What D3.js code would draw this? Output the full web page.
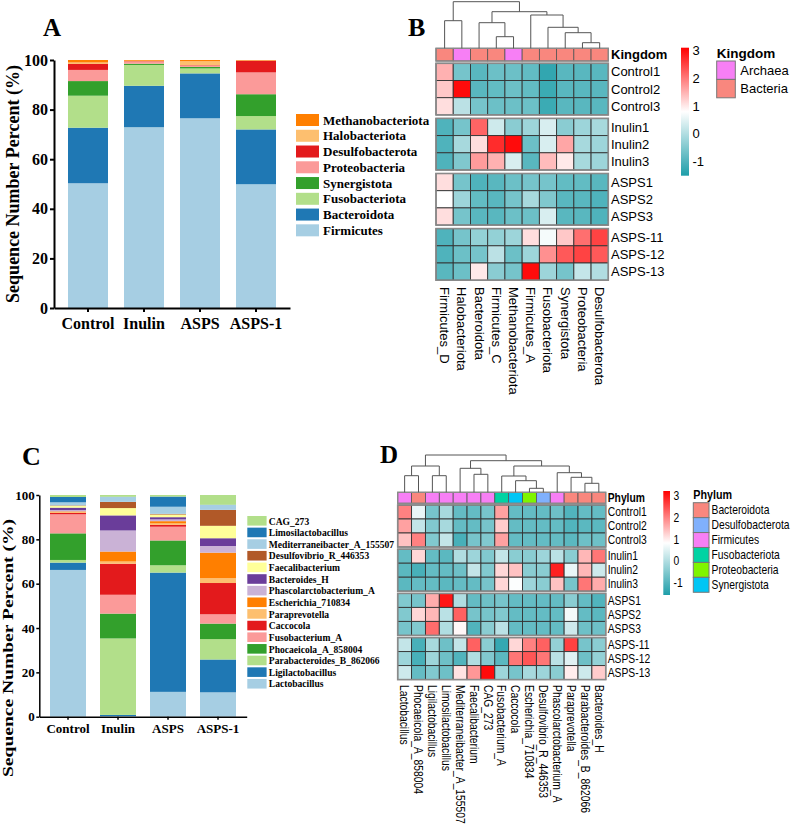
<!DOCTYPE html>
<html><head><meta charset="utf-8">
<script src="https://cdn.jsdelivr.net/npm/d3@7"></script>
<style>body{margin:0;background:#fff} svg{display:block}</style>
</head><body>
<svg id="c" width="791" height="825"></svg>
<script>
// ---------------- DATA ----------------
const groups = ["Control","Inulin","ASPS","ASPS-1"];

// Panel A: phylum-level stacked percentages (bottom -> top)
const phylaA = ["Firmicutes","Bacteroidota","Fusobacteriota","Synergistota","Proteobacteria","Desulfobacterota","Halobacteriota","Methanobacteriota"];
const colorsA = ["#a6cee3","#1f78b4","#b2df8a","#33a02c","#fb9a99","#e31a1c","#fdbf6f","#ff7f00"];
const valuesA = [
  [50.3,72.9,76.5,49.9],
  [22.4,16.7,18.1,22.1],
  [12.9, 8.4, 2.0, 5.4],
  [ 5.9, 0.5, 0.6, 8.8],
  [ 4.5, 0.8, 0.5, 8.8],
  [ 2.4, 0.2, 0.2, 4.7],
  [ 0.6, 0.2, 1.6, 0.1],
  [ 1.0, 0.3, 0.5, 0.2]];

// Panel C: genus-level stacked percentages (bottom -> top)
const generaC = ["Lactobacillus","Ligilactobacillus","Parabacteroides_B_862066","Phocaeicola_A_858004","Fusobacterium_A","Caccocola","Paraprevotella","Escherichia_710834","Phascolarctobacterium_A","Bacteroides_H","Faecalibacterium","Desulfovibrio_R_446353","Mediterraneibacter_A_155507","Limosilactobacillus","CAG_273"];
const colorsC = ["#a6cee3","#1f78b4","#b2df8a","#33a02c","#fb9a99","#e31a1c","#fdbf6f","#ff7f00","#cab2d6","#6a3d9a","#ffff99","#b15928","#a6cee3","#1f78b4","#b2df8a"];
const valuesC = [
  [66.2, 0.3,11.2,11.0],
  [ 3.3, 0.5,53.8,14.8],
  [ 1.2,34.5, 3.3, 9.2],
  [12.0,11.2,11.2, 7.0],
  [ 8.6, 8.5, 6.2, 4.2],
  [ 0.6,14.0, 0.8,14.1],
  [ 0.4, 1.0, 0.7, 2.2],
  [ 0.3, 4.5, 1.0,11.5],
  [ 0.6, 9.5, 0.8, 3.0],
  [ 1.1, 6.8, 1.0, 3.5],
  [ 0.8, 3.3, 1.2, 5.6],
  [ 0.2, 2.8, 0.3, 7.2],
  [ 1.4, 2.2, 3.2, 2.2],
  [ 2.4, 0.1, 4.6, 0.1],
  [ 0.9, 0.8, 0.7, 4.4]];

const yTicks = [0,20,40,60,80,100];

// Heatmaps: samples (rows)
const samples = ["Control1","Control2","Control3","Inulin1","Inulin2","Inulin3","ASPS1","ASPS2","ASPS3","ASPS-11","ASPS-12","ASPS-13"];

// Panel B
const colsB = ["Firmicutes_D","Halobacteriota","Bacteroidota","Firmicutes_C","Methanobacteriota","Firmicutes_A","Fusobacteriota","Synergistota","Proteobacteria","Desulfobacterota"];
const kingdomB = ["Bacteria","Archaea","Bacteria","Bacteria","Archaea","Bacteria","Bacteria","Bacteria","Bacteria","Bacteria"];
const kingdomNames = ["Archaea","Bacteria"];
const kingdomColors = ["#f77ff5","#f9877e"];
const heatB = [
  [ 1.5,-0.6,-0.9,-0.7,-0.7,-0.8,-1.3,-0.9,-0.9,-0.9],
  [ 1.3, 3.0,-0.9,-0.8,-0.7,-0.8,-1.2,-0.9,-0.9,-0.9],
  [ 1.1, 0.1,-0.6,-0.7,-0.7,-0.7,-1.2,-0.9,-0.9,-0.9],
  [-1.0,-0.6, 2.2, 0.3,-0.4,-0.2, 0.4,-0.4,-0.2,-0.1],
  [-1.0,-0.1, 1.1, 2.7, 3.0,-0.7, 0.4, 1.6,-0.1,-0.2],
  [-1.0,-0.5, 1.7, 1.5, 0.4,-0.9, 1.4, 1.0,-0.1,-0.2],
  [ 1.1,-0.6,-1.0,-0.9,-0.7,-0.6,-0.6,-0.8,-0.8,-0.9],
  [ 0.8,-0.2,-0.8,-0.9,-0.6,-0.1,-0.5,-0.9,-0.9,-1.0],
  [ 1.1,-0.6,-0.9,-0.9,-0.7,-0.7, 0.4,-0.9,-0.9,-1.0],
  [-1.0,-0.6,-0.3,-0.3,-0.2, 1.1, 0.7, 1.3, 2.1, 2.5],
  [-1.0,-0.7,-0.6, 0.1,-0.7,-0.2, 1.8, 2.3, 2.5, 2.3],
  [-0.9,-0.7, 1.0,-0.4,-0.6, 3.0,-0.2,-0.6, 0.2, 0.0]];
// dendrogram: [left, right, height]; leaves are column indices
const treeB = [[0,1,27.6],[[2,[3,4,11.6],25.6],[5,[6,[7,[8,9,5.6],15.6],21.0],33.3],36.6],46.6];
const scaleTicksB = [3,2,1,0,-1];
const rangeB = [-1.5,3.1];

// Panel D
const colsD = ["Lactobacillus","Phocaeicola_A_858004","Ligilactobacillus","Limosilactobacillus","Mediterraneibacter_A_155507","Faecalibacterium","CAG_273","Fusobacterium_A","Caccocola","Escherichia_710834","Desulfovibrio_R_446353","Phascolarctobacterium_A","Paraprevotella","Parabacteroides_B_862066","Bacteroides_H"];
const phylumD = ["Firmicutes","Bacteroidota","Firmicutes","Firmicutes","Firmicutes","Firmicutes","Firmicutes","Fusobacteriota","Synergistota","Proteobacteria","Desulfobacterota","Firmicutes","Bacteroidota","Bacteroidota","Bacteroidota"];
const phylumNames = ["Bacteroidota","Desulfobacterota","Firmicutes","Fusobacteriota","Proteobacteria","Synergistota"];
const phylumColors = ["#f9877e","#80b0fc","#f77ff5","#00d3a3","#7ff500","#00c6f5"];
const heatD = [
  [ 2.0, 0.6,-0.6,-0.1,-0.8,-0.8,-0.6, 1.7,-0.8,-0.8,-0.8,-0.7,-1.0,-0.8,-0.8],
  [ 1.7, 0.2,-0.5,-0.1,-0.8,-0.8,-0.6, 1.3,-0.8,-0.8,-0.8,-0.8,-1.0,-0.9,-0.9],
  [ 1.4, 2.0,-0.5, 0.2,-1.1,-0.6,-0.5, 1.7,-0.8,-0.8,-0.8,-0.8,-0.9,-0.7,-0.7],
  [-0.8, 1.2,-0.8,-0.9, 0.0,-0.2,-0.5, 0.2,-0.4,-0.4,-0.2, 0.1,-0.4, 1.5, 2.1],
  [-0.9,-1.1,-0.8,-0.8,-0.7, 0.2,-0.5, 1.2, 1.4,-0.4,-0.4, 2.9, 0.6, 1.5, 0.3],
  [-0.9,-0.8,-0.8,-0.9,-0.8,-0.8,-0.6, 1.2, 0.8,-0.2,-0.4, 1.4,-0.6, 2.1, 1.6],
  [-0.5,-0.6, 1.6, 3.0, 0.0,-0.8,-0.7,-0.6,-0.8,-0.8,-0.8,-0.8,-0.4,-0.8,-1.0],
  [-0.5, 1.2, 1.5, 0.1, 2.3,-0.6,-0.6,-0.5,-0.8,-0.8,-0.8,-0.8, 0.7,-0.8,-0.9],
  [-0.6,-0.5, 2.2, 0.0, 0.9,-1.0,-0.4, 0.1,-0.8,-0.8,-0.8,-0.8, 0.3,-0.7,-0.7],
  [ 0.2,-1.1,-0.1,-0.7, 0.2, 2.3,-0.4,-1.3, 1.2, 2.0, 2.3,-0.3, 2.6,-0.6,-0.4],
  [-0.2,-1.1,-0.2,-0.7,-1.0, 0.0,-0.5,-0.9, 2.1, 2.4, 2.1, 0.1, 0.5,-0.7,-0.3],
  [ 0.3,-0.8,-0.5,-0.7, 1.1, 1.8, 3.1,-0.2,-0.6,-0.1,-0.2,-0.4, 1.0, 0.3, 1.3]];
const treeD = [[[0,1,16.6],[2,3,16.6],26.3],
  [[4,[5,6,18.0],24.0],[[7,[8,[9,10,4.0],11.6],16.3],[11,[12,[13,14,9.0],15.0],19.6],26.3],31.6],37.3];
const scaleTicksD = [3,2,1,0,-1];
const rangeD = [-1.54,3.2];

// ---------------- DRAWING ----------------
const svg = d3.select("#c");
const SERIF = "'Liberation Serif','Times New Roman',serif";
const SANS = "'Liberation Sans',Arial,sans-serif";
const LOW = "#1e9ea9", HIGH = "#ff0000";

function label(g, x, y, s, o = {}) {
  let tr = `translate(${x},${y})`;
  if (o.rot) tr += ` rotate(${o.rot})`;
  if (o.sx) tr += ` scale(${o.sx},1)`;
  const t = g.append("text").attr("transform", tr).text(s)
    .attr("font-family", o.ff || SANS).attr("font-size", o.fs || 13)
    .attr("font-weight", o.fw || "normal").attr("text-anchor", o.anchor || "start")
    .attr("dominant-baseline", o.db || "auto").attr("fill", "#000");
  if (o.len) t.attr("textLength", o.len).attr("lengthAdjust", "spacingAndGlyphs");
  return t;
}

function stackedBar(o) {
  const g = svg.append("g");
  const table = groups.map((grp, j) => {
    const r = {group: grp};
    o.keys.forEach((k, i) => r[k] = o.values[i][j]);
    return r;
  });
  const series = d3.stack().keys(o.keys)(table);
  const x = d3.scaleBand().domain(groups).range(o.xr).paddingInner(o.pi).paddingOuter(o.po);
  const y = d3.scaleLinear().domain([0, 100]).range(o.yr);
  series.forEach((s, i) => {
    g.append("g").selectAll("rect").data(s).join("rect")
      .attr("x", d => x(d.data.group)).attr("width", x.bandwidth())
      .attr("y", d => y(d[1])).attr("height", d => y(d[0]) - y(d[1]))
      .attr("fill", o.colors[i]);
  });
  const ya = g.append("g").attr("transform", `translate(${o.xr[0]},0)`)
    .call(d3.axisLeft(y).tickValues(yTicks).tickSize(o.tick).tickSizeOuter(0).tickPadding(o.tp));
  const xa = g.append("g").attr("transform", `translate(0,${o.yr[0]})`)
    .call(d3.axisBottom(x).tickSize(o.tick).tickSizeOuter(0).tickPadding(o.tpx));
  [ya, xa].forEach(a => {
    a.select(".domain").attr("stroke", "#000").attr("stroke-width", o.sw);
    a.selectAll(".tick line").attr("stroke", "#000").attr("stroke-width", o.sw);
    a.selectAll("text").attr("font-family", SERIF).attr("font-weight", "bold")
      .attr("font-size", o.fs).attr("fill", "#000");
  });
  xa.selectAll("text").attr("font-size", o.fsx);
  // legend (top to bottom = reverse stacking)
  const leg = g.append("g");
  const items = o.keys.map((k, i) => ({k, c: o.colors[i]})).reverse();
  const ly = d3.scaleBand().domain(items.map((d, i) => i)).range([o.legTop, o.legTop + o.legStep * items.length]);
  items.forEach((d, i) => {
    leg.append("rect").attr("x", o.legX).attr("y", ly(i)).attr("width", o.swW).attr("height", o.swH).attr("fill", d.c);
    label(leg, o.legX + o.swW + o.legGap, ly(i) + o.swH / 2, d.k, {ff: SERIF, fw: "bold", fs: o.legFs, db: "central", sx: o.legSx});
  });
  return g;
}

// Panel A
const gA = stackedBar({keys: phylaA, values: valuesA, colors: colorsA,
  xr: [54, 290], yr: [308, 60], pi: 16/56, po: 0.25, tick: 4, tp: 2, tpx: 6, sw: 2, fs: 16, fsx: 16,
  legX: 296, legTop: 114, legStep: 15.76, swW: 23, swH: 12, legGap: 4, legFs: 13});
label(gA, 13, 184, "Sequence Number Percent (%)", {ff: SERIF, fw: "bold", fs: 18, rot: -90, anchor: "middle", db: "central"});
label(gA, 43, 36, "A", {ff: SERIF, fw: "bold", fs: 25});

// Panel C
const gC = stackedBar({keys: generaC, values: valuesC, colors: colorsC,
  xr: [39.3, 246.7], yr: [716.7, 495], pi: 0.28, po: 0.214, tick: 3, tp: 1.5, tpx: 4, sw: 1.5, fs: 13, fsx: 13,
  legX: 247.3, legTop: 516, legStep: 11.64, swW: 19.3, swH: 9.6, legGap: 2.2, legFs: 11, legSx: 0.87});
label(gC, 8, 648, "Sequence Number Percent (%)", {ff: SERIF, fw: "bold", fs: 15, rot: -90, anchor: "middle", db: "central", len: 258});
label(gC, 22, 465, "C", {ff: SERIF, fw: "bold", fs: 26});

// Heatmaps
let gradId = 0;
function heatmap(o) {
  const g = svg.append("g");
  const n = o.cols.length;
  const x = d3.scaleBand().domain(o.cols).range([o.x0, o.x0 + o.colW * n]);
  const gs = d3.scaleBand().domain(groups).range([o.rowTop, o.rowBottom]).paddingInner(o.gapFrac);
  const inner = d3.scaleBand().domain([0, 1, 2]).range([0, gs.bandwidth()]);
  const yRow = i => gs(groups[Math.floor(i / 3)]) + inner(i % 3);
  const color = d3.scaleLinear().domain([o.range[0], (o.range[0] + o.range[1]) / 2, o.range[1]])
    .range([LOW, "#ffffff", HIGH]).clamp(true);
  // cells
  o.matrix.forEach((row, i) => {
    g.append("g").selectAll("rect").data(row).join("rect")
      .attr("x", (d, j) => x(o.cols[j])).attr("y", yRow(i))
      .attr("width", x.bandwidth()).attr("height", inner.bandwidth())
      .attr("fill", d => color(d)).attr("stroke", "#333").attr("stroke-width", 0.9);
  });
  groups.forEach(gn => g.append("rect").attr("x", o.x0).attr("y", gs(gn))
    .attr("width", o.colW * n).attr("height", gs.bandwidth())
    .attr("fill", "none").attr("stroke", "#8a8a8a").attr("stroke-width", 1.6));
  // annotation row
  const annC = d3.scaleOrdinal().domain(o.annNames).range(o.annColors);
  g.append("g").selectAll("rect").data(o.ann).join("rect")
    .attr("x", (d, j) => x(o.cols[j])).attr("y", o.annTop).attr("width", x.bandwidth()).attr("height", o.annH)
    .attr("fill", d => annC(d)).attr("stroke", "#555").attr("stroke-width", 0.8);
  g.append("rect").attr("x", o.x0).attr("y", o.annTop).attr("width", o.colW * n).attr("height", o.annH)
    .attr("fill", "none").attr("stroke", "#8a8a8a").attr("stroke-width", 1.4);
  label(g, o.labX, o.annTop + o.annH / 2, o.annTitle, {fw: "bold", fs: o.fs, db: "central", sx: o.sx});
  // row labels
  samples.forEach((s, i) => label(g, o.labX, yRow(i) + inner.bandwidth() / 2, s, {fs: o.fs, db: "central", sx: o.sx}));
  // column labels
  o.cols.forEach(c => label(g, x(c) + x.bandwidth() / 2, o.colLabTop, c, {fs: o.fs, rot: 90, db: "central", sx: o.sx}));
  // dendrogram
  const yH = d3.scaleLinear().domain([0, o.tree[2]]).range([o.annTop, o.dendTop]);
  const dg = g.append("g").attr("fill", "none").attr("stroke", "#555").attr("stroke-width", 1);
  (function walk(node) {
    if (typeof node === "number") return {x: x(o.cols[node]) + x.bandwidth() / 2, y: o.annTop};
    const a = walk(node[0]), b = walk(node[1]);
    const yy = yH(node[2]);
    dg.append("path").attr("d", `M${a.x},${a.y}V${yy}H${b.x}V${b.y}`);
    return {x: (a.x + b.x) / 2, y: yy};
  })(o.tree);
  // color bar
  const id = "grad" + (gradId++);
  const grad = svg.append("defs").append("linearGradient").attr("id", id)
    .attr("x1", 0).attr("y1", 1).attr("x2", 0).attr("y2", 0);
  d3.range(0, 1.0001, 0.05).forEach(t => grad.append("stop").attr("offset", t)
    .attr("stop-color", color(o.range[0] + t * (o.range[1] - o.range[0]))));
  const cy = d3.scaleLinear().domain(o.range).range([o.cbBottom, o.cbTop]);
  g.append("rect").attr("x", o.cbX).attr("y", o.cbTop).attr("width", o.cbW).attr("height", o.cbBottom - o.cbTop)
    .attr("fill", `url(#${id})`);
  o.cbTicks.forEach(t => label(g, o.cbX + o.cbW + 3.5, cy(t), String(t), {fs: o.fs, db: "central", sx: o.sx}));
  // annotation legend
  label(g, o.legX, o.legTitleY, o.annTitle, {fw: "bold", fs: o.legTitleFs, db: "central", sx: o.sx});
  const ly = d3.scaleBand().domain(o.annNames).range([o.legTop, o.legTop + o.legStep * o.annNames.length]);
  o.annNames.forEach((nm, i) => {
    g.append("rect").attr("x", o.legX).attr("y", ly(nm)).attr("width", o.legW).attr("height", ly.bandwidth())
      .attr("fill", o.annColors[i]).attr("stroke", "#777").attr("stroke-width", 1);
    label(g, o.legX + o.legW + o.legGap, ly(nm) + ly.bandwidth() / 2, nm, {fs: o.legFs, db: "central", sx: o.sx});
  });
  return g;
}

const gB = heatmap({cols: colsB, matrix: heatB, ann: kingdomB, annNames: kingdomNames, annColors: kingdomColors,
  annTitle: "Kingdom", tree: treeB, range: rangeB, cbTicks: scaleTicksB,
  x0: 436, colW: 17.23, rowTop: 63.3, rowBottom: 280.2, gapFrac: 3.5 / 55.1,
  annTop: 48.3, annH: 12.7, dendTop: 1.7, labX: 611, colLabTop: 287, fs: 13,
  cbX: 681, cbW: 8, cbTop: 47.7, cbBottom: 175.7,
  legX: 716.7, legTitleY: 53.5, legTitleFs: 13.5, legTop: 61, legStep: 18.4, legW: 18.6, legGap: 5, legFs: 13});
label(gB, 408, 36, "B", {ff: SERIF, fw: "bold", fs: 26});

const gD = heatmap({cols: colsD, matrix: heatD, ann: phylumD, annNames: phylumNames, annColors: phylumColors,
  annTitle: "Phylum", tree: treeD, range: rangeD, cbTicks: scaleTicksD,
  x0: 397.7, colW: 13.87, rowTop: 505, rowBottom: 679.6, gapFrac: 2.2 / 44.2,
  annTop: 492.3, annH: 11, dendTop: 455, labX: 607.7, colLabTop: 685, fs: 12, sx: 0.86,
  cbX: 663.3, cbW: 6.7, cbTop: 491, cbBottom: 595,
  legX: 693.3, legTitleY: 494, legTitleFs: 12.5, legTop: 502.7, legStep: 14.93, legW: 15.7, legGap: 2.5, legFs: 12});
label(gD, 380, 463, "D", {ff: SERIF, fw: "bold", fs: 25});
</script>
</body></html>
